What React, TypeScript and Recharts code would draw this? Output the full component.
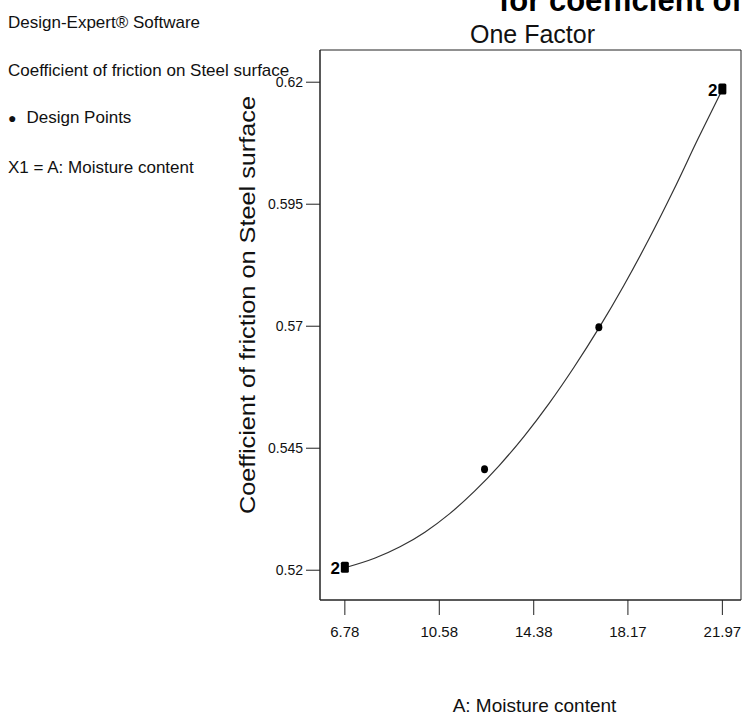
import React from "react";
import {
  ComposedChart,
  Line,
  Scatter,
  XAxis,
  YAxis,
  ReferenceArea,
  Label,
} from "recharts";

// fitted curve
const moisture = [6.78, 8, 9, 10, 11, 12, 13, 14, 15, 16, 17, 18, 19, 20, 21, 21.97];
const fitCof = [
  0.5205, 0.5225, 0.5248, 0.5278, 0.5316, 0.5362, 0.5415, 0.5475,
  0.5542, 0.5616, 0.5696, 0.5783, 0.5877, 0.5978, 0.6085, 0.6185,
];

// design points (reps = replicates, drawn as "2" + square)
const designMoisture = [6.78, 12.4, 17.0, 21.97];
const designCof = [0.5205, 0.5407, 0.5698, 0.6185];
const designReps = [2, 1, 1, 2];

const xTicks = [6.78, 10.58, 14.38, 18.17, 21.97];
const yTicks = [0.52, 0.545, 0.57, 0.595, 0.62];
const xDomain: [number, number] = [5.78, 22.72];
const yDomain: [number, number] = [0.5139, 0.6266];

const FONT = "'Liberation Sans', Arial, sans-serif";

const fit = moisture.map((x, i) => ({ x, y: fitCof[i] }));
const design = designMoisture.map((x, i) => ({ x, y: designCof[i], reps: designReps[i] }));

function DesignMark(props: any) {
  const { cx, cy, payload } = props;
  if (payload.reps > 1) {
    return (
      <g>
        <rect x={cx - 4} y={cy - 6} width={8} height={11} rx={1.5} fill="#000" />
        <text
          x={cx - 5}
          y={cy + 6}
          textAnchor="end"
          fontFamily={FONT}
          fontWeight="bold"
          fontSize={17}
          fill="#000"
        >
          {payload.reps}
        </text>
      </g>
    );
  }
  return <ellipse cx={cx} cy={cy} rx={3.5} ry={4} fill="#000" />;
}

const sideText: React.CSSProperties = {
  position: "absolute",
  left: 8,
  fontFamily: FONT,
  fontSize: 17,
  color: "#111",
  whiteSpace: "nowrap",
};

export default function App() {
  return (
    <div style={{ position: "absolute", left: 0, top: 0, width: 744, height: 718, background: "#fff", overflow: "hidden" }}>
      <div
        style={{
          position: "absolute",
          left: 499,
          top: -17,
          fontFamily: FONT,
          fontWeight: "bold",
          fontSize: 31,
          whiteSpace: "nowrap",
          color: "#000",
        }}
      >
        for coefficient of
      </div>
      <div style={{ ...sideText, top: 13 }}>Design-Expert® Software</div>
      <div style={{ ...sideText, top: 61 }}>Coefficient of friction on Steel surface</div>
      <div style={{ ...sideText, top: 108 }}>
        <span style={{ fontSize: 14, marginRight: 10 }}>●</span>Design Points
      </div>
      <div style={{ ...sideText, top: 158 }}>X1 = A: Moisture content</div>

      <ComposedChart width={744} height={718} margin={{ top: 50, right: 3, bottom: 88, left: 258 }}>
        <XAxis
          type="number"
          dataKey="x"
          domain={xDomain}
          ticks={xTicks}
          tickFormatter={(v) => String(v)}
          allowDataOverflow
          height={30}
          tickSize={15}
          tickMargin={11}
          stroke="#222"
          tick={{ fill: "#111", fontSize: 15, fontFamily: FONT }}
        >
          <Label
            content={({ viewBox }: any) => (
              <text
                x={viewBox.x + viewBox.width / 2 + 4}
                y={712}
                textAnchor="middle"
                fontFamily={FONT}
                fontSize={19}
                fill="#111"
              >
                A: Moisture content
              </text>
            )}
          />
        </XAxis>
        <YAxis
          type="number"
          dataKey="y"
          domain={yDomain}
          ticks={yTicks}
          tickFormatter={(v) => String(v)}
          allowDataOverflow
          width={62}
          tickSize={14}
          tickMargin={3}
          stroke="#222"
          tick={{ fill: "#111", fontSize: 14, fontFamily: FONT }}
        >
          <Label
            content={() => (
              <text
                x={255}
                y={305}
                transform="rotate(-90, 255, 305)"
                textAnchor="middle"
                fontFamily={FONT}
                fontSize={22}
                textLength={418}
                lengthAdjust="spacingAndGlyphs"
                fill="#111"
              >
                Coefficient of friction on Steel surface
              </text>
            )}
          />
        </YAxis>
        <ReferenceArea
          x1={xDomain[0]}
          x2={xDomain[1]}
          y1={yDomain[0]}
          y2={yDomain[1]}
          stroke="#222"
          strokeWidth={1}
          fill="none"
          fillOpacity={0}
          label={
            <Label
              content={({ viewBox }: any) => (
                <text
                  x={viewBox.x + viewBox.width / 2 + 2}
                  y={viewBox.y - 7}
                  textAnchor="middle"
                  fontFamily={FONT}
                  fontSize={25}
                  fill="#111"
                >
                  One Factor
                </text>
              )}
            />
          }
        />
        <Line
          data={fit}
          dataKey="y"
          type="monotone"
          stroke="#333"
          strokeWidth={1.2}
          dot={false}
          activeDot={false}
          isAnimationActive={false}
        />
        <Scatter data={design} dataKey="y" shape={<DesignMark />} isAnimationActive={false} />
      </ComposedChart>
    </div>
  );
}
